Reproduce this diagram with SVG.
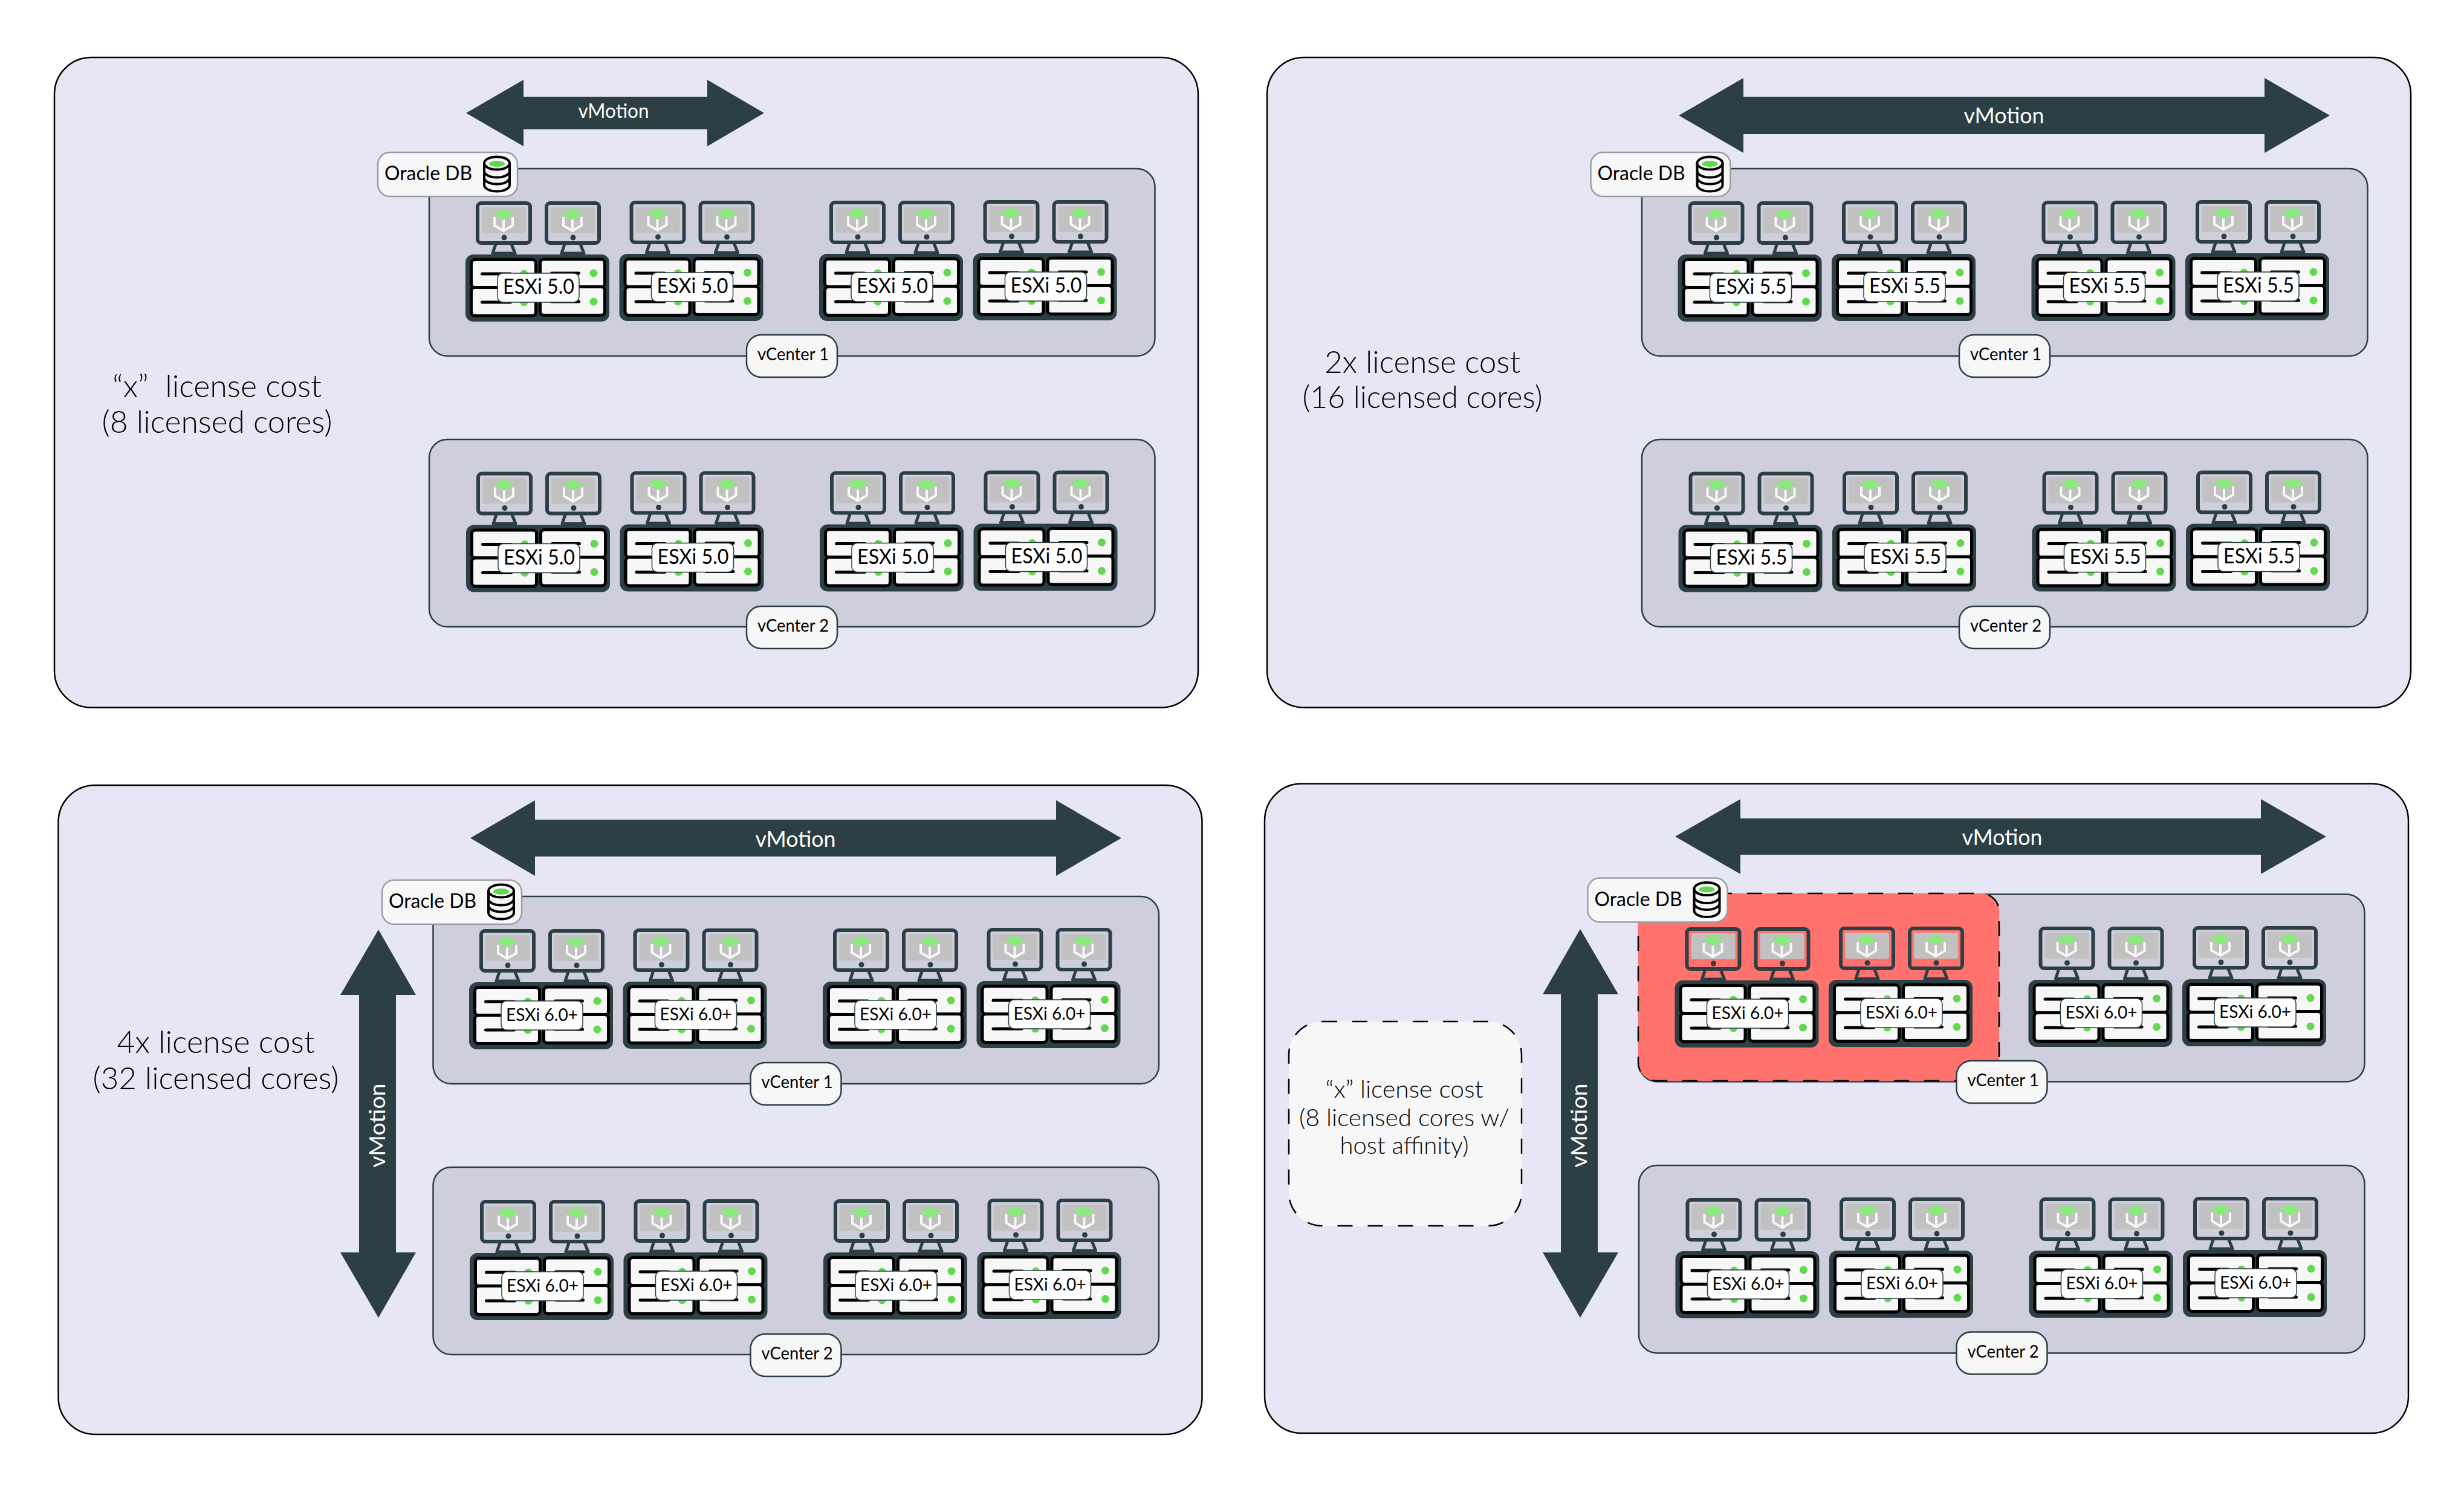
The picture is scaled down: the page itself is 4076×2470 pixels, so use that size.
<svg xmlns="http://www.w3.org/2000/svg" width="4076" height="2470" viewBox="0 0 4076 2470">
<style>
text{font-family:"Lato","Open Sans",sans-serif;font-weight:300;fill:#000;text-anchor:middle}
.outer{fill:#e6e6f4;stroke:#000;stroke-width:2.5}
.inner{fill:#cecedc;stroke:#2b3f44;stroke-width:2.5}
.pill{fill:#f7f7f7;stroke:#2b3f44;stroke-width:2.5}
.odb{fill:#f7f7f7;stroke:#9a9ea2;stroke-width:2.5}
.arrow{fill:#2b3f44}
.mv{fill:#fff;font-weight:400}
.big{font-size:52px}
.note{font-size:40px}
.vc{font-size:28px;font-weight:400}
.e50{font-size:34px;font-weight:400}
.e60{font-size:29px;font-weight:400}
.dash{stroke:#000;stroke-width:2.5;stroke-dasharray:25 25}
</style>
<defs>
<g id="vm">
<rect x="20" y="-85" width="87" height="66" rx="6" fill="none" stroke="#2b3f44" stroke-width="6"/>
<rect x="27" y="-78" width="73" height="43" rx="3" fill="#c1c1c1"/>
<circle cx="64" cy="-28" r="4.500" fill="#2b3f44"/>
<path d="M50 -17L45 -2H82L76 -17" fill="none" stroke="#2b3f44" stroke-width="5" stroke-linejoin="round"/>
<path d="M48 -62V-48L63 -39L78 -48V-62M63 -58V-40" fill="none" stroke="#f7f7f7" stroke-width="4"/>
<path d="M63 -76L80 -66.500L63 -57L46 -66.500Z" fill="#8aea7d"/>
</g>
<g id="host">
<g transform="translate(-1 0)">
<use href="#vm"/>
<use href="#vm" x="114"/>
<rect width="238" height="111" rx="13" fill="#2b3f44"/>
<g fill="#f7f7f7" stroke="#000" stroke-width="5">
<rect x="9.500" y="8.500" width="107" height="46" rx="6"/>
<rect x="9.500" y="54.500" width="107" height="47" rx="6"/>
<rect x="123.500" y="8" width="107" height="46" rx="6"/>
<rect x="123.500" y="53.500" width="107" height="47" rx="6"/>
</g>
<g fill="#000">
<rect x="25" y="29.500" width="52" height="5" rx="2.500"/>
<rect x="25" y="76.500" width="52" height="5" rx="2.500"/>
<rect x="140" y="28.500" width="50" height="5" rx="2.500"/>
<rect x="140" y="75.500" width="50" height="5" rx="2.500"/>
</g>
<g fill="#62d84e">
<circle cx="97" cy="32" r="6.500"/>
<circle cx="97" cy="79" r="6.500"/>
<circle cx="212" cy="31" r="6.500"/>
<circle cx="212" cy="78" r="6.500"/>
</g>
<rect x="53" y="31" width="135" height="48" rx="9" fill="#fff" stroke="#2b3f44" stroke-width="1.500"/>
</g>
</g>
<g id="db">
<path d="M801 270V306A21 10.500 0 0 0 843 306V270M801 283A21 10.500 0 0 0 843 283M801 294A21 10.500 0 0 0 843 294" fill="none" stroke="#000" stroke-width="4"/>
<ellipse cx="822" cy="270" rx="21" ry="10.500" fill="#f7f7f7" stroke="#000" stroke-width="4"/>
<ellipse cx="822" cy="271" rx="13" ry="5" fill="#62d84e"/>
</g>
<g id="oracle">
<rect class="odb" x="625" y="252" width="231" height="73" rx="20"/>
<text x="708.500" y="298" style="font-size:33px;font-weight:400" textLength="145" lengthAdjust="spacingAndGlyphs">Oracle DB</text>
<use href="#db"/>
</g>
</defs>
<rect width="4076" height="2470" fill="#fff"/>

<g id="panel-1">
<rect class="outer" x="90" y="95" width="1892" height="1075.500" rx="61"/>
<text class="big" x="359" y="657" xml:space="preserve" textLength="346" lengthAdjust="spacingAndGlyphs">“x”  license cost</text>
<text class="big" x="359" y="716" textLength="381" lengthAdjust="spacingAndGlyphs">(8 licensed cores)</text>
<rect class="inner" x="710" y="279" width="1200.500" height="310" rx="30"/>
<rect class="inner" x="710" y="727" width="1200.500" height="310" rx="30"/>
</g>
<g id="panel-2">
<rect class="outer" x="2096" y="95" width="1892" height="1075.500" rx="61"/>
<text class="big" x="2353" y="617" textLength="324" lengthAdjust="spacingAndGlyphs">2x license cost</text>
<text class="big" x="2353" y="675" textLength="397" lengthAdjust="spacingAndGlyphs">(16 licensed cores)</text>
<rect class="inner" x="2716" y="279" width="1200.500" height="310" rx="30"/>
<rect class="inner" x="2716" y="727" width="1200.500" height="310" rx="30"/>
</g>
<g id="panel-3">
<rect class="outer" x="96.500" y="1299" width="1892" height="1074" rx="61"/>
<text class="big" x="357" y="1741.500" textLength="327" lengthAdjust="spacingAndGlyphs">4x license cost</text>
<text class="big" x="357" y="1801.500" textLength="407" lengthAdjust="spacingAndGlyphs">(32 licensed cores)</text>
<rect class="inner" x="716.500" y="1483" width="1200.500" height="310" rx="30"/>
<rect class="inner" x="716.500" y="1931" width="1200.500" height="310" rx="30"/>
</g>
<g id="panel-4">
<rect class="outer" x="2092" y="1296.500" width="1892" height="1074.500" rx="61"/>
<rect class="inner" x="2711" y="1479.500" width="1200.500" height="310" rx="30"/>
<rect class="inner" x="2711" y="1928" width="1200.500" height="310.500" rx="30"/>
<rect x="2710" y="1478" width="597" height="310" rx="30" fill="#ff726e" class="dash"/>
</g>

<g id="note-affinity">
<rect x="2132" y="1690" width="385" height="338" rx="55" fill="#f7f7f7" class="dash"/>
<text class="note" x="2323" y="1816" textLength="261" lengthAdjust="spacingAndGlyphs">“x” license cost</text>
<text class="note" x="2323" y="1862.500" textLength="348" lengthAdjust="spacingAndGlyphs">(8 licensed cores w/</text>
<text class="note" x="2323" y="1909" textLength="213" lengthAdjust="spacingAndGlyphs">host affinity)</text>
</g>

<g id="connectors">
<g id="vmotion-1"><polygon class="arrow" points="771,187 866,132 866,160 1170,160 1170,132 1264,187 1170,242 1170,214 866,214 866,242"/><text class="mv" x="1015" y="195" style="font-size:32px" textLength="117" lengthAdjust="spacingAndGlyphs">vMotion</text></g>
<g id="vmotion-2"><polygon class="arrow" points="2777,191 2884,129 2884,160 3746,160 3746,129 3854,191 3746,253 3746,222 2884,222 2884,253"/><text class="mv" x="3315" y="204" style="font-size:36px" textLength="133" lengthAdjust="spacingAndGlyphs">vMotion</text></g>
<g id="vmotion-3"><polygon class="arrow" points="778,1386.500 885,1324 885,1356 1747,1356 1747,1324 1855,1386.500 1747,1449 1747,1417 885,1417 885,1449"/><text class="mv" x="1316" y="1401" style="font-size:36px" textLength="133" lengthAdjust="spacingAndGlyphs">vMotion</text></g>
<g id="vmotion-4"><polygon class="arrow" points="2771,1384 2879,1322 2879,1354 3740,1354 3740,1322 3848,1384 3740,1446 3740,1414 2879,1414 2879,1446"/><text class="mv" x="3312" y="1398" style="font-size:36px" textLength="133" lengthAdjust="spacingAndGlyphs">vMotion</text></g>
<g id="vmotion-3v"><polygon class="arrow" points="626,1538 688,1646 655,1646 655,2072 688,2072 626,2180 563,2072 594,2072 594,1646 563,1646"/><text class="mv" transform="translate(637 1862) rotate(-90)" style="font-size:36px" textLength="139" lengthAdjust="spacingAndGlyphs">vMotion</text></g>
<g id="vmotion-4v"><polygon class="arrow" points="2614,1537 2677,1645 2643,1645 2643,2072 2677,2072 2614,2180 2552,2072 2582,2072 2582,1645 2552,1645"/><text class="mv" transform="translate(2625 1862) rotate(-90)" style="font-size:36px" textLength="139" lengthAdjust="spacingAndGlyphs">vMotion</text></g>
</g>

<g id="host-1-1-1" transform="translate(771 421)"><use href="#host"/><text class="e50" x="120" y="65" textLength="118" lengthAdjust="spacingAndGlyphs">ESXi 5.0</text></g>
<g id="host-1-1-2" transform="translate(1025.500 420)"><use href="#host"/><text class="e50" x="120" y="65" textLength="118" lengthAdjust="spacingAndGlyphs">ESXi 5.0</text></g>
<g id="host-1-1-3" transform="translate(1356 420)"><use href="#host"/><text class="e50" x="120" y="65" textLength="118" lengthAdjust="spacingAndGlyphs">ESXi 5.0</text></g>
<g id="host-1-1-4" transform="translate(1610.500 419)"><use href="#host"/><text class="e50" x="120" y="65" textLength="118" lengthAdjust="spacingAndGlyphs">ESXi 5.0</text></g>
<g id="host-1-2-1" transform="translate(772 868.500)"><use href="#host"/><text class="e50" x="120" y="65" textLength="118" lengthAdjust="spacingAndGlyphs">ESXi 5.0</text></g>
<g id="host-1-2-2" transform="translate(1026.500 867.500)"><use href="#host"/><text class="e50" x="120" y="65" textLength="118" lengthAdjust="spacingAndGlyphs">ESXi 5.0</text></g>
<g id="host-1-2-3" transform="translate(1357 867.500)"><use href="#host"/><text class="e50" x="120" y="65" textLength="118" lengthAdjust="spacingAndGlyphs">ESXi 5.0</text></g>
<g id="host-1-2-4" transform="translate(1611.500 866.500)"><use href="#host"/><text class="e50" x="120" y="65" textLength="118" lengthAdjust="spacingAndGlyphs">ESXi 5.0</text></g>

<g id="host-2-1-1" transform="translate(2776.500 421)"><use href="#host"/><text class="e50" x="120" y="65" textLength="118" lengthAdjust="spacingAndGlyphs">ESXi 5.5</text></g>
<g id="host-2-1-2" transform="translate(3031 420)"><use href="#host"/><text class="e50" x="120" y="65" textLength="118" lengthAdjust="spacingAndGlyphs">ESXi 5.5</text></g>
<g id="host-2-1-3" transform="translate(3361.500 420)"><use href="#host"/><text class="e50" x="120" y="65" textLength="118" lengthAdjust="spacingAndGlyphs">ESXi 5.5</text></g>
<g id="host-2-1-4" transform="translate(3616 419)"><use href="#host"/><text class="e50" x="120" y="65" textLength="118" lengthAdjust="spacingAndGlyphs">ESXi 5.5</text></g>
<g id="host-2-2-1" transform="translate(2777.500 868.500)"><use href="#host"/><text class="e50" x="120" y="65" textLength="118" lengthAdjust="spacingAndGlyphs">ESXi 5.5</text></g>
<g id="host-2-2-2" transform="translate(3032 867.500)"><use href="#host"/><text class="e50" x="120" y="65" textLength="118" lengthAdjust="spacingAndGlyphs">ESXi 5.5</text></g>
<g id="host-2-2-3" transform="translate(3362.500 867.500)"><use href="#host"/><text class="e50" x="120" y="65" textLength="118" lengthAdjust="spacingAndGlyphs">ESXi 5.5</text></g>
<g id="host-2-2-4" transform="translate(3617 866.500)"><use href="#host"/><text class="e50" x="120" y="65" textLength="118" lengthAdjust="spacingAndGlyphs">ESXi 5.5</text></g>

<g id="host-3-1-1" transform="translate(777 1625)"><use href="#host"/><text class="e60" x="119.500" y="63.500" textLength="119" lengthAdjust="spacingAndGlyphs">ESXi 6.0+</text></g>
<g id="host-3-1-2" transform="translate(1031.500 1624)"><use href="#host"/><text class="e60" x="119.500" y="63.500" textLength="119" lengthAdjust="spacingAndGlyphs">ESXi 6.0+</text></g>
<g id="host-3-1-3" transform="translate(1362 1624)"><use href="#host"/><text class="e60" x="119.500" y="63.500" textLength="119" lengthAdjust="spacingAndGlyphs">ESXi 6.0+</text></g>
<g id="host-3-1-4" transform="translate(1616.500 1623)"><use href="#host"/><text class="e60" x="119.500" y="63.500" textLength="119" lengthAdjust="spacingAndGlyphs">ESXi 6.0+</text></g>
<g id="host-3-2-1" transform="translate(778 2073)"><use href="#host"/><text class="e60" x="119.500" y="63.500" textLength="119" lengthAdjust="spacingAndGlyphs">ESXi 6.0+</text></g>
<g id="host-3-2-2" transform="translate(1032.500 2072)"><use href="#host"/><text class="e60" x="119.500" y="63.500" textLength="119" lengthAdjust="spacingAndGlyphs">ESXi 6.0+</text></g>
<g id="host-3-2-3" transform="translate(1363 2072)"><use href="#host"/><text class="e60" x="119.500" y="63.500" textLength="119" lengthAdjust="spacingAndGlyphs">ESXi 6.0+</text></g>
<g id="host-3-2-4" transform="translate(1617.500 2071)"><use href="#host"/><text class="e60" x="119.500" y="63.500" textLength="119" lengthAdjust="spacingAndGlyphs">ESXi 6.0+</text></g>

<g id="host-4-1-1" transform="translate(2771.500 1622)"><use href="#host"/><text class="e60" x="119.500" y="63.500" textLength="119" lengthAdjust="spacingAndGlyphs">ESXi 6.0+</text></g>
<g id="host-4-1-2" transform="translate(3026 1621)"><use href="#host"/><text class="e60" x="119.500" y="63.500" textLength="119" lengthAdjust="spacingAndGlyphs">ESXi 6.0+</text></g>
<g id="host-4-1-3" transform="translate(3356.500 1621)"><use href="#host"/><text class="e60" x="119.500" y="63.500" textLength="119" lengthAdjust="spacingAndGlyphs">ESXi 6.0+</text></g>
<g id="host-4-1-4" transform="translate(3611 1620)"><use href="#host"/><text class="e60" x="119.500" y="63.500" textLength="119" lengthAdjust="spacingAndGlyphs">ESXi 6.0+</text></g>
<g id="host-4-2-1" transform="translate(2772.500 2070)"><use href="#host"/><text class="e60" x="119.500" y="63.500" textLength="119" lengthAdjust="spacingAndGlyphs">ESXi 6.0+</text></g>
<g id="host-4-2-2" transform="translate(3027 2069)"><use href="#host"/><text class="e60" x="119.500" y="63.500" textLength="119" lengthAdjust="spacingAndGlyphs">ESXi 6.0+</text></g>
<g id="host-4-2-3" transform="translate(3357.500 2069)"><use href="#host"/><text class="e60" x="119.500" y="63.500" textLength="119" lengthAdjust="spacingAndGlyphs">ESXi 6.0+</text></g>
<g id="host-4-2-4" transform="translate(3612 2068)"><use href="#host"/><text class="e60" x="119.500" y="63.500" textLength="119" lengthAdjust="spacingAndGlyphs">ESXi 6.0+</text></g>

<g id="oracle-1"><use href="#oracle"/></g>
<g id="oracle-2" transform="translate(2006.500 0)"><use href="#oracle"/></g>
<g id="oracle-3" transform="translate(7 1204)"><use href="#oracle"/></g>
<g id="oracle-4" transform="translate(2001.500 1200.500)"><use href="#oracle"/></g>

<g id="vcenter-1-1"><rect class="pill" x="1235" y="554" width="150" height="70" rx="24"/><text class="vc" x="1312" y="596" textLength="118" lengthAdjust="spacingAndGlyphs">vCenter 1</text></g>
<g id="vcenter-1-2"><rect class="pill" x="1235" y="1003" width="150" height="70" rx="24"/><text class="vc" x="1312" y="1045" textLength="118" lengthAdjust="spacingAndGlyphs">vCenter 2</text></g>
<g id="vcenter-2-1"><rect class="pill" x="3241" y="554" width="150" height="70" rx="24"/><text class="vc" x="3318" y="596" textLength="118" lengthAdjust="spacingAndGlyphs">vCenter 1</text></g>
<g id="vcenter-2-2"><rect class="pill" x="3241" y="1003" width="150" height="70" rx="24"/><text class="vc" x="3318" y="1045" textLength="118" lengthAdjust="spacingAndGlyphs">vCenter 2</text></g>
<g id="vcenter-3-1"><rect class="pill" x="1241.500" y="1758" width="150" height="70" rx="24"/><text class="vc" x="1318.500" y="1800" textLength="118" lengthAdjust="spacingAndGlyphs">vCenter 1</text></g>
<g id="vcenter-3-2"><rect class="pill" x="1241.500" y="2207" width="150" height="70" rx="24"/><text class="vc" x="1318.500" y="2249" textLength="118" lengthAdjust="spacingAndGlyphs">vCenter 2</text></g>
<g id="vcenter-4-1"><rect class="pill" x="3236.500" y="1755" width="150" height="70" rx="24"/><text class="vc" x="3313.500" y="1797" textLength="118" lengthAdjust="spacingAndGlyphs">vCenter 1</text></g>
<g id="vcenter-4-2"><rect class="pill" x="3236.500" y="2203.500" width="150" height="70" rx="24"/><text class="vc" x="3313.500" y="2245.500" textLength="118" lengthAdjust="spacingAndGlyphs">vCenter 2</text></g>
</svg>
